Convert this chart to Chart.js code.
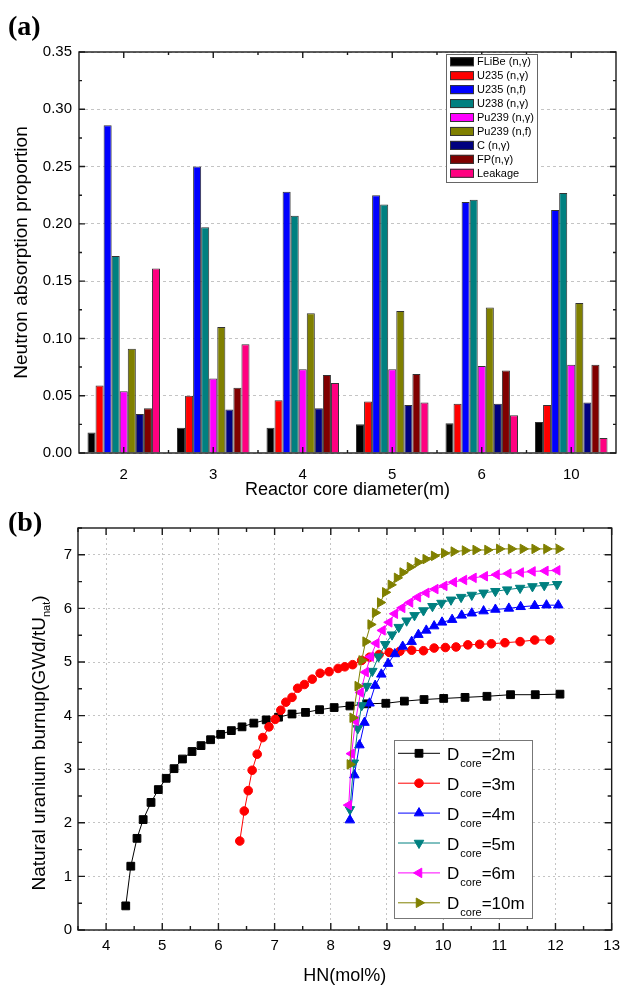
<!DOCTYPE html>
<html>
<head>
<meta charset="utf-8">
<script src="https://cdn.jsdelivr.net/npm/chart.js@4.4.1/dist/chart.umd.min.js"></script>
<style>
  body { margin: 0; background: #fff; }
  #page { position: relative; width: 627px; height: 985px; overflow: hidden; }
  canvas { position: absolute; left: 0; }
  .tag { position: absolute; left: 8px; z-index: 2; line-height: 1;
         font: bold 28px "Liberation Serif", "Times New Roman", serif; }
</style>
</head>
<body>
<div id="page">
  <canvas id="absorption" width="627" height="505" style="top:0"></canvas>
  <canvas id="burnup" width="627" height="480" style="top:505px"></canvas>
  <div class="tag" style="top:10px">(a)</div>
  <div class="tag" style="top:506px">(b)</div>
</div>
<script>
// ---------- (a) absorption per reactor core diameter ----------
const diameters = ['2', '3', '4', '5', '6', '10'];
const flibeNg  = [0.018, 0.022, 0.022, 0.025, 0.026, 0.027];
const u235Ng   = [0.059, 0.050, 0.046, 0.045, 0.043, 0.042];
const u235Nf   = [0.286, 0.250, 0.228, 0.225, 0.219, 0.212];
const u238Ng   = [0.172, 0.197, 0.207, 0.217, 0.221, 0.227];
const pu239Ng  = [0.054, 0.065, 0.073, 0.073, 0.076, 0.077];
const pu239Nf  = [0.091, 0.110, 0.122, 0.124, 0.127, 0.131];
const carbonNg = [0.034, 0.038, 0.039, 0.042, 0.043, 0.044];
const fpNg     = [0.039, 0.057, 0.068, 0.069, 0.072, 0.077];
const leakage  = [0.161, 0.095, 0.061, 0.044, 0.033, 0.013];
const reactionNames = ['FLiBe (n,γ)', 'U235 (n,γ)', 'U235 (n,f)', 'U238 (n,γ)', 'Pu239 (n,γ)',
                       'Pu239 (n,f)', 'C (n,γ)', 'FP(n,γ)', 'Leakage'];
const yTicksA = [0, 0.05, 0.10, 0.15, 0.20, 0.25, 0.30, 0.35];

// ---------- (b) natural uranium burnup vs heavy nuclide fraction ----------
const hn2  = [4.35, 4.44, 4.55, 4.66, 4.80, 4.93, 5.07, 5.21, 5.36, 5.53, 5.69, 5.86, 6.04, 6.23, 6.42, 6.63, 6.85,
              7.07, 7.31, 7.55, 7.80, 8.06, 8.34, 8.64, 8.98, 9.31, 9.66, 10.01, 10.39, 10.78, 11.20, 11.64, 12.08];
const bu2  = [0.45, 1.19, 1.71, 2.06, 2.38, 2.62, 2.83, 3.01, 3.19, 3.33, 3.44, 3.55, 3.65, 3.72, 3.79, 3.86, 3.92,
              3.97, 4.03, 4.06, 4.11, 4.15, 4.18, 4.22, 4.23, 4.27, 4.30, 4.32, 4.34, 4.36, 4.39, 4.39, 4.40];
const hn3  = [6.38, 6.46, 6.53, 6.60, 6.69, 6.79, 6.90, 7.01, 7.11, 7.20, 7.31, 7.41, 7.53, 7.67, 7.81, 7.97, 8.13, 8.25,
              8.39, 8.55, 8.69, 8.86, 9.04, 9.23, 9.44, 9.65, 9.84, 10.04, 10.23, 10.44, 10.65, 10.86, 11.10, 11.37, 11.63, 11.90];
const bu3  = [1.66, 2.22, 2.60, 2.98, 3.28, 3.59, 3.79, 3.93, 4.10, 4.25, 4.34, 4.51, 4.58, 4.68, 4.79, 4.82, 4.88, 4.91,
              4.95, 5.03, 5.09, 5.14, 5.18, 5.20, 5.22, 5.21, 5.26, 5.27, 5.28, 5.32, 5.33, 5.34, 5.36, 5.38, 5.41, 5.41];
const hn4  = [8.34, 8.42, 8.51, 8.60, 8.69, 8.79, 8.90, 9.02, 9.14, 9.28, 9.44, 9.56, 9.70, 9.84, 9.98, 10.16, 10.33,
              10.51, 10.72, 10.93, 11.17, 11.38, 11.63, 11.84, 12.05];
const bu4  = [2.05, 2.89, 3.45, 3.87, 4.23, 4.56, 4.77, 4.97, 5.15, 5.29, 5.38, 5.51, 5.59, 5.67, 5.74, 5.79, 5.87,
              5.91, 5.95, 5.98, 6.00, 6.03, 6.05, 6.06, 6.06];
const hn5  = [8.34, 8.41, 8.48, 8.55, 8.64, 8.74, 8.85, 8.97, 9.09, 9.21, 9.35, 9.49, 9.65, 9.81, 9.97, 10.14, 10.32,
              10.51, 10.72, 10.93, 11.14, 11.37, 11.59, 11.80, 12.03];
const bu5  = [2.25, 3.12, 3.76, 4.19, 4.55, 4.83, 5.10, 5.33, 5.51, 5.65, 5.77, 5.87, 5.96, 6.04, 6.10, 6.16, 6.21,
              6.25, 6.29, 6.32, 6.35, 6.38, 6.41, 6.43, 6.45];
const hn6  = [8.32, 8.37, 8.44, 8.53, 8.62, 8.71, 8.81, 8.92, 9.04, 9.14, 9.27, 9.41, 9.55, 9.70, 9.86, 10.02, 10.19,
              10.37, 10.54, 10.74, 10.95, 11.16, 11.38, 11.59, 11.82, 12.03];
const bu6  = [2.33, 3.29, 3.90, 4.43, 4.81, 5.10, 5.35, 5.59, 5.74, 5.90, 6.01, 6.11, 6.21, 6.29, 6.36, 6.42, 6.49,
              6.53, 6.57, 6.60, 6.63, 6.65, 6.67, 6.69, 6.70, 6.71];
const hn10 = [8.34, 8.39, 8.48, 8.55, 8.62, 8.71, 8.79, 8.88, 8.97, 9.07, 9.18, 9.28, 9.41, 9.55, 9.69, 9.84, 10.02,
              10.19, 10.39, 10.58, 10.79, 11.00, 11.21, 11.42, 11.63, 11.84, 12.06];
const bu10 = [3.09, 3.96, 4.55, 5.03, 5.38, 5.70, 5.92, 6.11, 6.30, 6.44, 6.57, 6.67, 6.77, 6.86, 6.92, 6.98, 7.03,
              7.06, 7.08, 7.09, 7.09, 7.11, 7.11, 7.11, 7.11, 7.11, 7.11];
const coreSizes = ['2m', '3m', '4m', '5m', '6m', '10m'];
const xTicksB = [4, 5, 6, 7, 8, 9, 10, 11, 12, 13];
const yTicksB = [0, 1, 2, 3, 4, 5, 6, 7];

Chart.defaults.font.family = "Arial, 'Liberation Sans', sans-serif";
Chart.defaults.color = '#000';

const barColors = ['#000000', '#ff0000', '#0000ff', '#008080', '#ff00ff', '#808000', '#000080', '#800000', '#ff0080'];
const barSeries = [flibeNg, u235Ng, u235Nf, u238Ng, pu239Ng, pu239Nf, carbonNg, fpNg, leakage];

const lineColors = ['#000000', '#ff0000', '#0000ff', '#008080', '#ff00ff', '#808000'];
const markers = [
  { style: 'rect', rot: 0, r: 5.5 },
  { style: 'circle', rot: 0, r: 4.3 },
  { style: 'triangle', rot: 0, r: 5.5 },
  { style: 'triangle', rot: 180, r: 5.5 },
  { style: 'triangle', rot: 270, r: 5.5 },
  { style: 'triangle', rot: 90, r: 5.5 }
];
const lineSeries = [[hn2, bu2], [hn3, bu3], [hn4, bu4], [hn5, bu5], [hn6, bu6], [hn10, bu10]];

const SANS = "Arial, 'Liberation Sans', sans-serif";

// axis box with inward major/minor ticks on all four sides
function strokeFrame(ctx, a) {
  ctx.strokeStyle = '#1a1a1a';
  ctx.lineWidth = 1.4;
  ctx.strokeRect(a.left, a.top, a.right - a.left, a.bottom - a.top);
}
function tickY(ctx, a, py, len) {
  ctx.moveTo(a.left, py); ctx.lineTo(a.left + len, py);
  ctx.moveTo(a.right, py); ctx.lineTo(a.right - len, py);
}
function tickX(ctx, a, px, len) {
  ctx.moveTo(px, a.bottom); ctx.lineTo(px, a.bottom - len);
  ctx.moveTo(px, a.top); ctx.lineTo(px, a.top + len);
}

const frameA = {
  id: 'frameA',
  afterDatasetsDraw(chart) {
    const { ctx, chartArea: a, scales: { x, y } } = chart;
    ctx.save();
    strokeFrame(ctx, a);
    ctx.beginPath();
    yTicksA.forEach((v, i) => {
      tickY(ctx, a, y.getPixelForValue(v), 6);
      if (i < yTicksA.length - 1) tickY(ctx, a, y.getPixelForValue(v + 0.025), 3);
    });
    diameters.forEach((d, i) => {
      tickX(ctx, a, x.getPixelForValue(i), 6);
      if (i < diameters.length - 1) tickX(ctx, a, x.getPixelForValue(i + 0.5), 3);
    });
    ctx.stroke();
    ctx.restore();
  },
  afterDraw(chart) {
    const ctx = chart.ctx;
    ctx.save();
    ctx.fillStyle = '#fff';
    ctx.fillRect(446, 54, 92, 129);
    ctx.strokeStyle = '#666';
    ctx.lineWidth = 1;
    ctx.strokeRect(446.5, 54.5, 91, 128);
    ctx.font = '11px ' + SANS;
    ctx.textBaseline = 'middle';
    reactionNames.forEach((name, i) => {
      const cy = 61.7 + i * 13.95;
      ctx.fillStyle = barColors[i];
      ctx.fillRect(450, cy - 4.5, 24, 9);
      ctx.strokeStyle = '#333';
      ctx.strokeRect(450.5, cy - 4, 23, 8);
      ctx.fillStyle = '#000';
      ctx.fillText(name, 477, cy + 0.5);
    });
    ctx.restore();
  }
};

const frameB = {
  id: 'frameB',
  afterDatasetsDraw(chart) {
    const { ctx, chartArea: a, scales: { x, y } } = chart;
    ctx.save();
    strokeFrame(ctx, a);
    ctx.beginPath();
    xTicksB.forEach(v => {
      tickX(ctx, a, x.getPixelForValue(v), 7);
      tickX(ctx, a, x.getPixelForValue(v - 0.5), 4);
    });
    yTicksB.forEach(v => {
      tickY(ctx, a, y.getPixelForValue(v), 7);
      tickY(ctx, a, y.getPixelForValue(v + 0.5), 4);
    });
    ctx.stroke();
    ctx.restore();
  },
  afterDraw(chart) {
    const { ctx, chartArea: a } = chart;
    ctx.save();

    // y title with subscript
    const main = 'Natural uranium burnup(GWd/tU';
    ctx.font = '19px ' + SANS;
    const w1 = ctx.measureText(main).width;
    const w3 = ctx.measureText(')').width;
    ctx.font = '11px ' + SANS;
    const w2 = ctx.measureText('nat').width;
    const total = w1 + w2 + w3;
    ctx.translate(45, (a.top + a.bottom) / 2 + 14);
    ctx.rotate(-Math.PI / 2);
    ctx.fillStyle = '#000';
    ctx.textBaseline = 'alphabetic';
    let tx = -total / 2;
    ctx.font = '19px ' + SANS;
    ctx.fillText(main, tx, 0);
    tx += w1;
    ctx.font = '11px ' + SANS;
    ctx.fillText('nat', tx, 5);
    tx += w2;
    ctx.font = '19px ' + SANS;
    ctx.fillText(')', tx, 0);
    ctx.restore();

    // legend box
    ctx.save();
    ctx.fillStyle = '#fff';
    ctx.fillRect(394, 235, 139, 179);
    ctx.strokeStyle = '#777';
    ctx.lineWidth = 1;
    ctx.strokeRect(394.5, 235.5, 138, 178);
    coreSizes.forEach((size, i) => {
      const cy = 248.3 + i * 29.9;
      ctx.strokeStyle = lineColors[i];
      ctx.fillStyle = lineColors[i];
      ctx.lineWidth = 1;
      ctx.beginPath();
      ctx.moveTo(398, cy); ctx.lineTo(440, cy);
      ctx.stroke();
      Chart.helpers.drawPoint(ctx, { pointStyle: markers[i].style, rotation: markers[i].rot,
                                     radius: markers[i].r, borderWidth: 1 }, 419, cy);
      ctx.fillStyle = '#000';
      ctx.textBaseline = 'alphabetic';
      let tx = 447;
      ctx.font = '17px ' + SANS;
      ctx.fillText('D', tx, cy + 6.5);
      tx += ctx.measureText('D').width + 1;
      ctx.font = '11px ' + SANS;
      ctx.fillText('core', tx, cy + 13.5);
      tx += ctx.measureText('core').width;
      ctx.font = '17px ' + SANS;
      ctx.fillText('=' + size, tx, cy + 6.5);
    });
    ctx.restore();
  }
};

new Chart(document.getElementById('absorption'), {
  type: 'bar',
  data: {
    labels: diameters,
    datasets: barSeries.map((values, i) => ({
      label: reactionNames[i],
      data: values,
      backgroundColor: barColors[i],
      borderColor: '#333',
      borderWidth: 1,
      categoryPercentage: 0.81,
      barPercentage: 1.0
    }))
  },
  options: {
    responsive: false,
    animation: false,
    devicePixelRatio: 1,
    layout: { padding: { top: 52, right: 11, left: 0, bottom: 0 } },
    plugins: { legend: { display: false }, tooltip: { enabled: false } },
    scales: {
      x: {
        grid: { display: false, drawTicks: false },
        border: { display: false },
        ticks: { font: { size: 15 }, padding: 13 },
        title: { display: true, text: 'Reactor core diameter(m)', font: { size: 18, lineHeight: 1 },
                 padding: { top: 0, bottom: 6 } },
        afterFit: s => { s.height = 52; }
      },
      y: {
        min: 0, max: 0.35,
        afterBuildTicks: s => { s.ticks = yTicksA.map(v => ({ value: v })); },
        ticks: { font: { size: 15 }, padding: 7, callback: v => v.toFixed(2) },
        grid: { color: '#c4c4c4', drawTicks: false, lineWidth: 1 },
        border: { display: false, dash: [3, 3] },
        title: { display: true, text: 'Neutron absorption proportion', font: { size: 19, lineHeight: 1 },
                 padding: { top: 12, bottom: 0 } },
        afterFit: s => { s.width = 79; }
      }
    }
  },
  plugins: [frameA]
});

new Chart(document.getElementById('burnup'), {
  type: 'line',
  data: {
    datasets: lineSeries.map(([xs, ys], i) => ({
      label: 'D core=' + coreSizes[i],
      data: xs.map((v, k) => ({ x: v, y: ys[k] })),
      borderColor: lineColors[i],
      backgroundColor: lineColors[i],
      borderWidth: 1,
      pointStyle: markers[i].style,
      pointRotation: markers[i].rot,
      pointRadius: markers[i].r,
      pointBorderWidth: 1,
      order: lineSeries.length - i
    }))
  },
  options: {
    responsive: false,
    animation: false,
    devicePixelRatio: 1,
    layout: { padding: { top: 23, right: 9, left: 0, bottom: 0 } },
    plugins: { legend: { display: false }, tooltip: { enabled: false } },
    scales: {
      x: {
        type: 'linear', min: 3.5, max: 13,
        afterBuildTicks: s => { s.ticks = xTicksB.map(v => ({ value: v })); },
        ticks: { font: { size: 15 }, padding: 7 },
        grid: { color: '#c4c4c4', drawTicks: false },
        border: { display: false, dash: [2, 3] },
        title: { display: true, text: 'HN(mol%)', font: { size: 18, lineHeight: 1 }, padding: { top: 0, bottom: 0 } },
        afterFit: s => { s.height = 55; }
      },
      y: {
        type: 'linear', min: 0, max: 7.5,
        afterBuildTicks: s => { s.ticks = yTicksB.map(v => ({ value: v })); },
        ticks: { font: { size: 15 }, padding: 6 },
        grid: { color: '#c4c4c4', drawTicks: false },
        border: { display: false, dash: [2, 3] },
        afterFit: s => { s.width = 78; }
      }
    }
  },
  plugins: [frameB]
});
</script>
</body>
</html>
